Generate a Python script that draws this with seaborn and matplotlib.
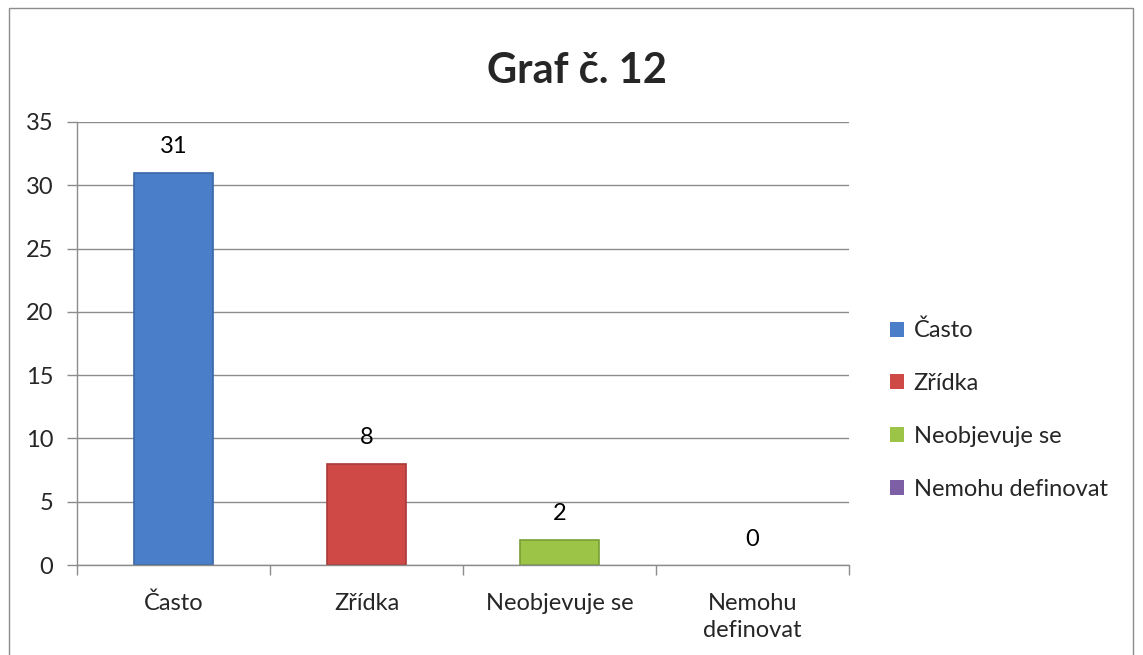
import matplotlib
matplotlib.use("Agg")
import matplotlib.pyplot as plt
import seaborn as sns
import numpy as np
from matplotlib.patches import Rectangle

categories = ["Často", "Zřídka", "Neobjevuje se", "Nemohu definovat"]
tick_labels = ["Často", "Zřídka", "Neobjevuje se", "Nemohu\ndefinovat"]
values = [31, 8, 2, 0]
colors = ["#4A7EC8", "#CF4A47", "#9CC447", "#7D5FA5"]
edge_colors = ["#3A66A8", "#A83A38", "#7A9E36", "#634A85"]
title = "Graf č. 12"

sns.set_theme(style="white")
plt.rcParams['font.family'] = ['Lato', 'DejaVu Sans']

fig = plt.figure(figsize=(11.43, 6.55), dpi=100)
ax = fig.add_axes([77/1143, 1-565/655, (849-77)/1143, (565-122)/655])

sns.barplot(x=categories, y=values, hue=categories, palette=colors, width=0.41,
            dodge=False, legend=True, ax=ax, edgecolor="none", saturation=1)

for c, ec in zip(ax.containers, edge_colors):
    for p in c.patches:
        if p.get_height() > 0:
            p.set_edgecolor(ec)
            p.set_linewidth(1.2)
        else:
            p.set_linewidth(0)
    ax.bar_label(c, padding=11, fontsize=17, color="black")

ax.set_ylim(0, 35)
ax.set_xlim(-0.5, 3.5)
ax.set_yticks(np.arange(0, 36, 5))
ax.yaxis.grid(True, color="#8C8C8C", linewidth=1)
ax.set_axisbelow(True)
ax.set_xticks(range(4))
ax.set_xticklabels(tick_labels, fontsize=17, linespacing=1.35)
ax.set_xticks(np.arange(-0.5, 4, 1), minor=True)
ax.tick_params(axis="x", which="major", length=0, pad=20)
ax.tick_params(axis="x", which="minor", length=7, color="#8C8C8C", width=1, direction="out", bottom=True)
ax.tick_params(axis="y", length=7, color="#8C8C8C", width=1, direction="out", left=True, labelsize=17, pad=10)
ax.set_xlabel("")
ax.set_ylabel("")
for s in ["top", "right"]:
    ax.spines[s].set_visible(False)
for s in ["left", "bottom"]:
    ax.spines[s].set_color("#8C8C8C")
    ax.spines[s].set_linewidth(1)

leg = ax.legend(loc="center left", bbox_to_anchor=((890-77)/772, (565-410)/443), frameon=False,
                fontsize=17, handlelength=0.6, handleheight=0.6, handletextpad=0.4,
                labelspacing=1.35, borderaxespad=0, borderpad=0)
for h in leg.legend_handles:
    h.set_linewidth(0)

fig.text(577/1143, 1-71/655, title, ha="center", va="center", fontsize=30, fontweight="bold")

fig.patches.append(Rectangle((9/1143, -0.05), (1133-9)/1143, 1.05-8/655, transform=fig.transFigure,
                             fill=False, edgecolor="#8C8C8C", linewidth=1))

fig.savefig("out.png", dpi=100)
